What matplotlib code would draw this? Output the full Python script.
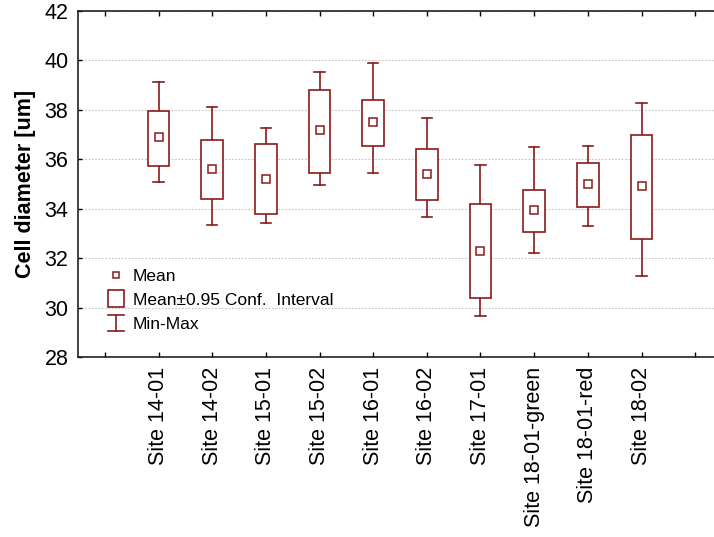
import matplotlib
matplotlib.use("Agg")
import matplotlib.pyplot as plt
from matplotlib.legend_handler import HandlerBase
from matplotlib.lines import Line2D
from matplotlib.patches import Rectangle

plt.rcParams['font.family'] = ['Liberation Sans', 'DejaVu Sans']

# Cell diameter statistics per site
sites = ["Site 14-01", "Site 14-02", "Site 15-01", "Site 15-02", "Site 16-01",
         "Site 16-02", "Site 17-01", "Site 18-01-green", "Site 18-01-red", "Site 18-02"]
means = [36.90, 35.59, 35.19, 37.17, 37.51, 35.42, 32.30, 33.95, 35.01, 34.90]
ci_low = [35.74, 34.38, 33.77, 35.46, 36.55, 34.36, 30.37, 33.04, 34.07, 32.79]
ci_high = [37.94, 36.77, 36.60, 38.82, 38.40, 36.40, 34.19, 34.76, 35.86, 37.00]
mins = [35.08, 33.34, 33.43, 34.97, 35.46, 33.65, 29.67, 32.21, 33.30, 31.29]
maxs = [39.14, 38.13, 37.28, 39.52, 39.91, 37.66, 35.78, 36.50, 36.54, 38.28]

COLOR = "#8b1a1a"
LW = 1.2
BOX_W = 0.40
CAP_W = 0.19

fig = plt.figure(figsize=(7.14, 5.37), dpi=100)
ax = fig.add_axes([78 / 714, 1 - 357 / 537, (722 - 78) / 714, (357 - 11) / 537])

for i, (m, lo, hi, mn, mx) in enumerate(zip(means, ci_low, ci_high, mins, maxs), start=1):
    # whiskers with caps
    ax.plot([i, i], [hi, mx], color=COLOR, lw=LW, zorder=2)
    ax.plot([i, i], [mn, lo], color=COLOR, lw=LW, zorder=2)
    ax.plot([i - CAP_W / 2, i + CAP_W / 2], [mx, mx], color=COLOR, lw=LW, zorder=2)
    ax.plot([i - CAP_W / 2, i + CAP_W / 2], [mn, mn], color=COLOR, lw=LW, zorder=2)
    # confidence interval box
    ax.add_patch(Rectangle((i - BOX_W / 2, lo), BOX_W, hi - lo, facecolor="white",
                           edgecolor=COLOR, lw=LW, zorder=3))
    # mean marker
    ax.plot([i], [m], marker="s", ms=5.2, mfc="white", mec=COLOR, mew=1.1,
            linestyle="none", zorder=4)

ax.set_xlim(-0.5, 11.5)
ax.set_ylim(28, 42)
ax.set_yticks(range(28, 43, 2))
ax.set_xticks(range(12))
ax.set_xticklabels([""] + sites + [""], rotation=90, fontsize=15.5)
ax.tick_params(axis="y", labelsize=15.5, direction="in", length=3, width=1, pad=7)
ax.tick_params(axis="x", direction="in", length=3.5, width=1, pad=7, top=True)
ax.yaxis.grid(True, linestyle=(0, (1.5, 1.5)), color="#c4c4c4", lw=0.8, zorder=0)
ax.set_axisbelow(True)
ax.spines["right"].set_visible(False)
for s in ("left", "top", "bottom"):
    ax.spines[s].set_linewidth(1.2)
    ax.spines[s].set_color("#222222")

ax.set_ylabel("Cell diameter [um]", fontsize=15.5, fontweight="bold", labelpad=6)


class MeanHandler(HandlerBase):
    def create_artists(self, legend, orig_handle, xdescent, ydescent, width, height,
                       fontsize, trans):
        ln = Line2D([width / 2 - xdescent], [height / 2 - ydescent], marker="s", ms=4.5,
                    mfc="white", mec=COLOR, mew=1.1, linestyle="none", transform=trans)
        return [ln]


class BoxHandler(HandlerBase):
    def create_artists(self, legend, orig_handle, xdescent, ydescent, width, height,
                       fontsize, trans):
        r = Rectangle((-xdescent, -ydescent - 1.5), width, height + 3, facecolor="white",
                      edgecolor=COLOR, lw=LW, transform=trans)
        return [r]


class RangeHandler(HandlerBase):
    def create_artists(self, legend, orig_handle, xdescent, ydescent, width, height,
                       fontsize, trans):
        x0, y0 = -xdescent, -ydescent
        cx = x0 + width / 2
        top, bot = y0 + height + 1.0, y0 - 1.0
        arts = [
            Line2D([cx, cx], [bot, top], color=COLOR, lw=LW, transform=trans),
            Line2D([x0, x0 + width], [bot, bot], color=COLOR, lw=LW, transform=trans),
            Line2D([x0, x0 + width], [top, top], color=COLOR, lw=LW, transform=trans),
        ]
        return arts


h_mean, h_box, h_range = object(), object(), object()
ax.legend([h_mean, h_box, h_range],
          ["Mean", "Mean\u00b10.95 Conf.  Interval", "Min-Max"],
          handler_map={h_mean: MeanHandler(), h_box: BoxHandler(), h_range: RangeHandler()},
          loc="upper left", bbox_to_anchor=(108 / 714, 1 - 268 / 537),
          bbox_transform=fig.transFigure, frameon=False, borderpad=0,
          fontsize=12.5, handlelength=0.92, handleheight=0.8, handletextpad=0.5,
          labelspacing=0.48, borderaxespad=0)

fig.savefig("out.png", dpi=100)
